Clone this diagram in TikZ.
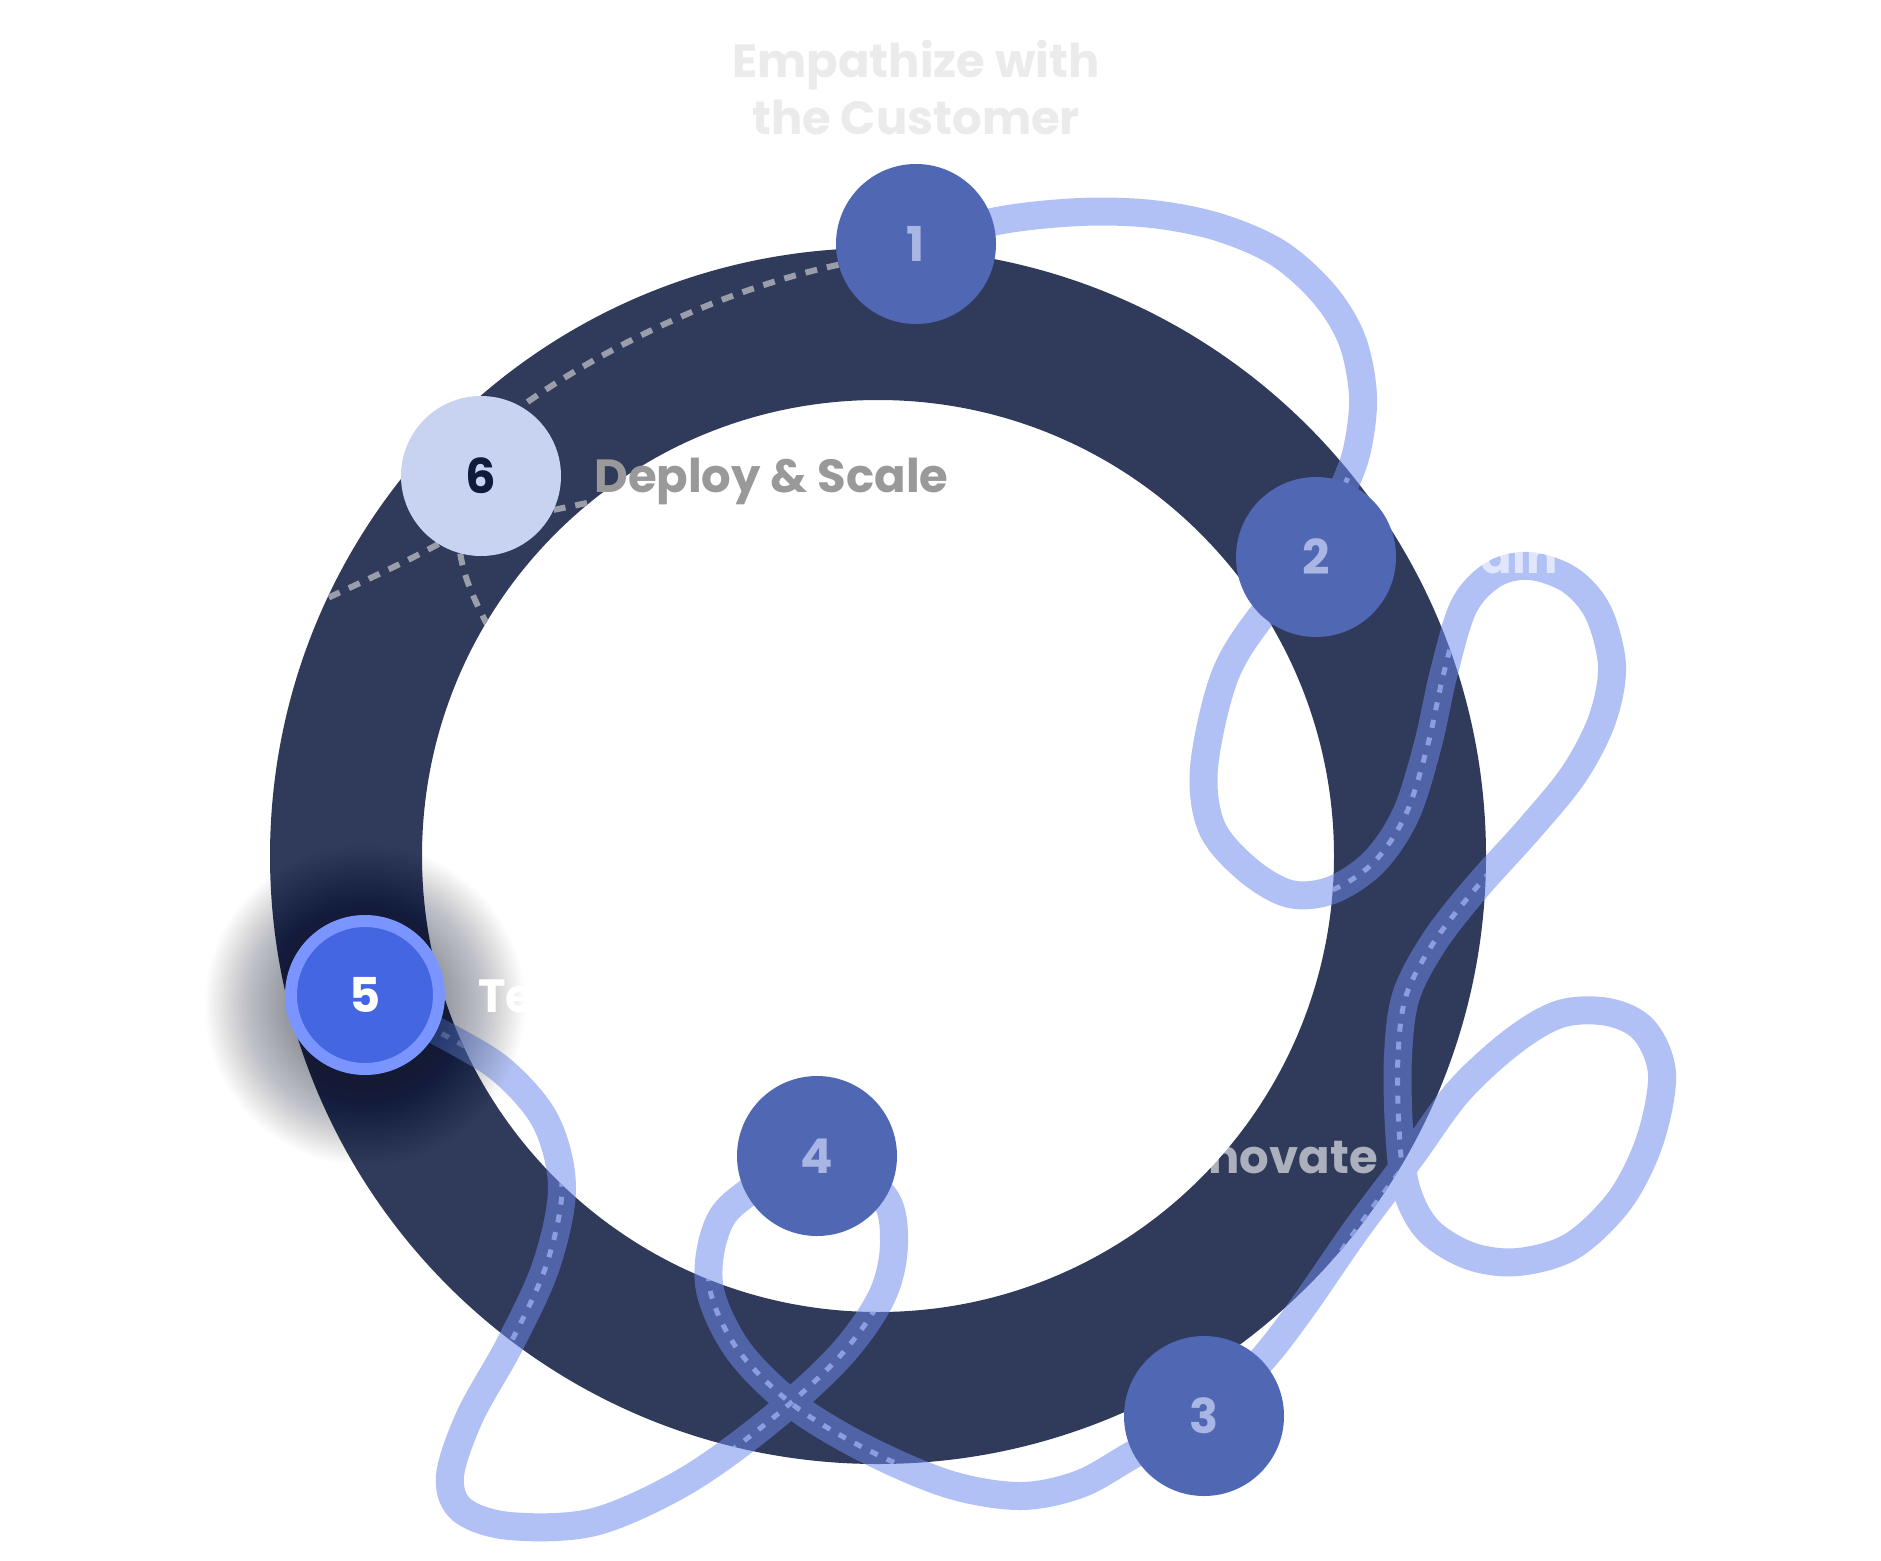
\documentclass[tikz,border=0pt]{standalone}
\usepackage{fontspec}
\setmainfont{Poppins}
\usetikzlibrary{calc}
\definecolor{ringc}{HTML}{303A5B}
\definecolor{nodec}{HTML}{5068B4}
\definecolor{numc}{HTML}{A9B6E3}
\definecolor{sixfill}{HTML}{C8D3F2}
\definecolor{sixtext}{HTML}{111A3A}
\definecolor{fivefill}{HTML}{4466E0}
\definecolor{fiveborder}{HTML}{7A95FF}
\definecolor{grayd}{HTML}{9A9DAA}
\definecolor{ribc}{HTML}{6D8AEC}
\definecolor{ribdashc}{HTML}{8A9EE0}
\definecolor{labgray}{HTML}{999999}
\definecolor{labone}{HTML}{EBEBEB}
\definecolor{shadowc}{HTML}{141A33}
\tikzset{
  numnode/.style={circle, minimum size=160pt, inner sep=0pt, font=\fontsize{48}{48}\selectfont\bfseries},
  stepnode/.style={numnode, fill=nodec, text=numc},
  lbl/.style={inner sep=0pt, font=\fontsize{46.5}{57}\selectfont\bfseries},
  ribbon/.style={draw=ribc, draw opacity=0.52, line width=28pt, line cap=butt, line join=round},
  ribdash/.style={draw=ribdashc, line width=5pt, dash pattern=on 8pt off 10pt},
  graydash/.style={draw=grayd, line width=6pt, dash pattern=on 12pt off 10pt},
  ribpts/.style={insert path={plot[smooth, tension=0.55] coordinates {
    (n1.center) (997,221) (1080,212) (1152,214) (1218,227) (1278,253) (1324,294) (1352,340) (1363,396) (1357,450) (1342,492)
    (n2.center) (1260,618) (1224,678) (1204,768) (1212,828) (1248,870) (1290,894) (1332,890) (1374,862) (1406,814)
    (1428,744) (1444,672) (1464,606) (1494,574) (1530,566) (1570,580) (1598,612) (1612,666) (1602,720) (1574,774)
    (1530,828) (1476,888) (1434,942) (1406,996) (1398,1056) (1399,1128) (1406,1188) (1428,1230) (1470,1256)
    (1518,1262) (1572,1246) (1620,1200) (1650,1140) (1662,1074) (1644,1030) (1608,1012) (1560,1014) (1512,1042)
    (1458,1092) (1410,1158) (1356,1230) (1302,1308) (1260,1362)
    (n3.center) (1134,1454) (1080,1484) (1020,1496) (948,1484) (864,1448) (792,1404) (738,1350) (710,1290)
    (714,1236) (738,1200)
    (n4.center) (882,1194) (894,1242) (882,1296) (840,1356) (768,1422) (684,1482) (594,1522) (510,1526)
    (462,1510) (450,1476) (470,1416) (510,1344) (546,1266) (562,1188) (546,1122) (504,1072) (450,1038)
    (n5.center)}}}
}
\begin{document}
\begin{tikzpicture}[x=1pt,y=-1pt]
\useasboundingbox[fill=white] (0,0) rectangle (1881,1560);
% ring
\fill[ringc, even odd rule] (878,856) circle (608pt) (878,856) circle (456pt);
% node positions
\coordinate (c1) at (916,244);
\coordinate (c2) at (1316,557);
\coordinate (c3) at (1204,1416);
\coordinate (c4) at (817,1156);
\coordinate (c5) at (365,995);
\coordinate (c6) at (481,476);
\path (c1) node[numnode] (n1) {} (c2) node[numnode] (n2) {} (c3) node[numnode] (n3) {}
      (c4) node[numnode] (n4) {} (c5) node[numnode] (n5) {} (c6) node[numnode] (n6) {};
% gray dashed tracks, clipped to the ring
\begin{scope}[even odd rule]
  \clip (878,856) circle (608pt) (878,856) circle (456pt);
  \draw[graydash] (n1.195) .. controls (720,290) and (600,350) .. (n6.60);
  \draw[graydash] (n6.-25) -- (640,492);
  \draw[graydash] (n6.238) .. controls (400,565) and (360,583) .. (280,620);
  \draw[graydash] (n6.255) .. controls (465,585) and (480,610) .. (500,650);
\end{scope}
% ribbon
\draw[ribbon, ribpts];
\begin{scope}[even odd rule]
  \clip (878,856) circle (608pt) (878,856) circle (456pt);
  \draw[ribdash, ribpts];
\end{scope}
% soft shadow of node 5
\foreach \r in {78,80,...,160}
  \fill[shadowc, opacity=0.013] ($(c5)+(0,10)$) circle (\r pt);
% nodes
\node[stepnode] at (c1) {1};
\node[stepnode] at (c2) {2};
\node[stepnode] at (c3) {3};
\node[stepnode] at (c4) {4};
\node[numnode, minimum size=148pt, fill=fivefill, draw=fiveborder, line width=12pt, text=white] at (c5) {5};
\node[numnode, fill=sixfill, text=sixtext] at (c6) {6};
% labels
\node[lbl, anchor=north, align=center, text=labone] (l1) at (916,40) {Empathize with\\the Customer};
\node[lbl, anchor=base west, text=white, text opacity=0.6] (l2) at (1430,573) {Brain};
\node[lbl, anchor=base east, text=white, text opacity=0.6] (l4) at (1378,1173) {Innovate};
\node[lbl, anchor=base west, text=white] (l5) at (478,1012) {Test};
\node[lbl, anchor=base west, text=labgray] (l6) at (594,492) {Deploy \& Scale};
\end{tikzpicture}
\end{document}
